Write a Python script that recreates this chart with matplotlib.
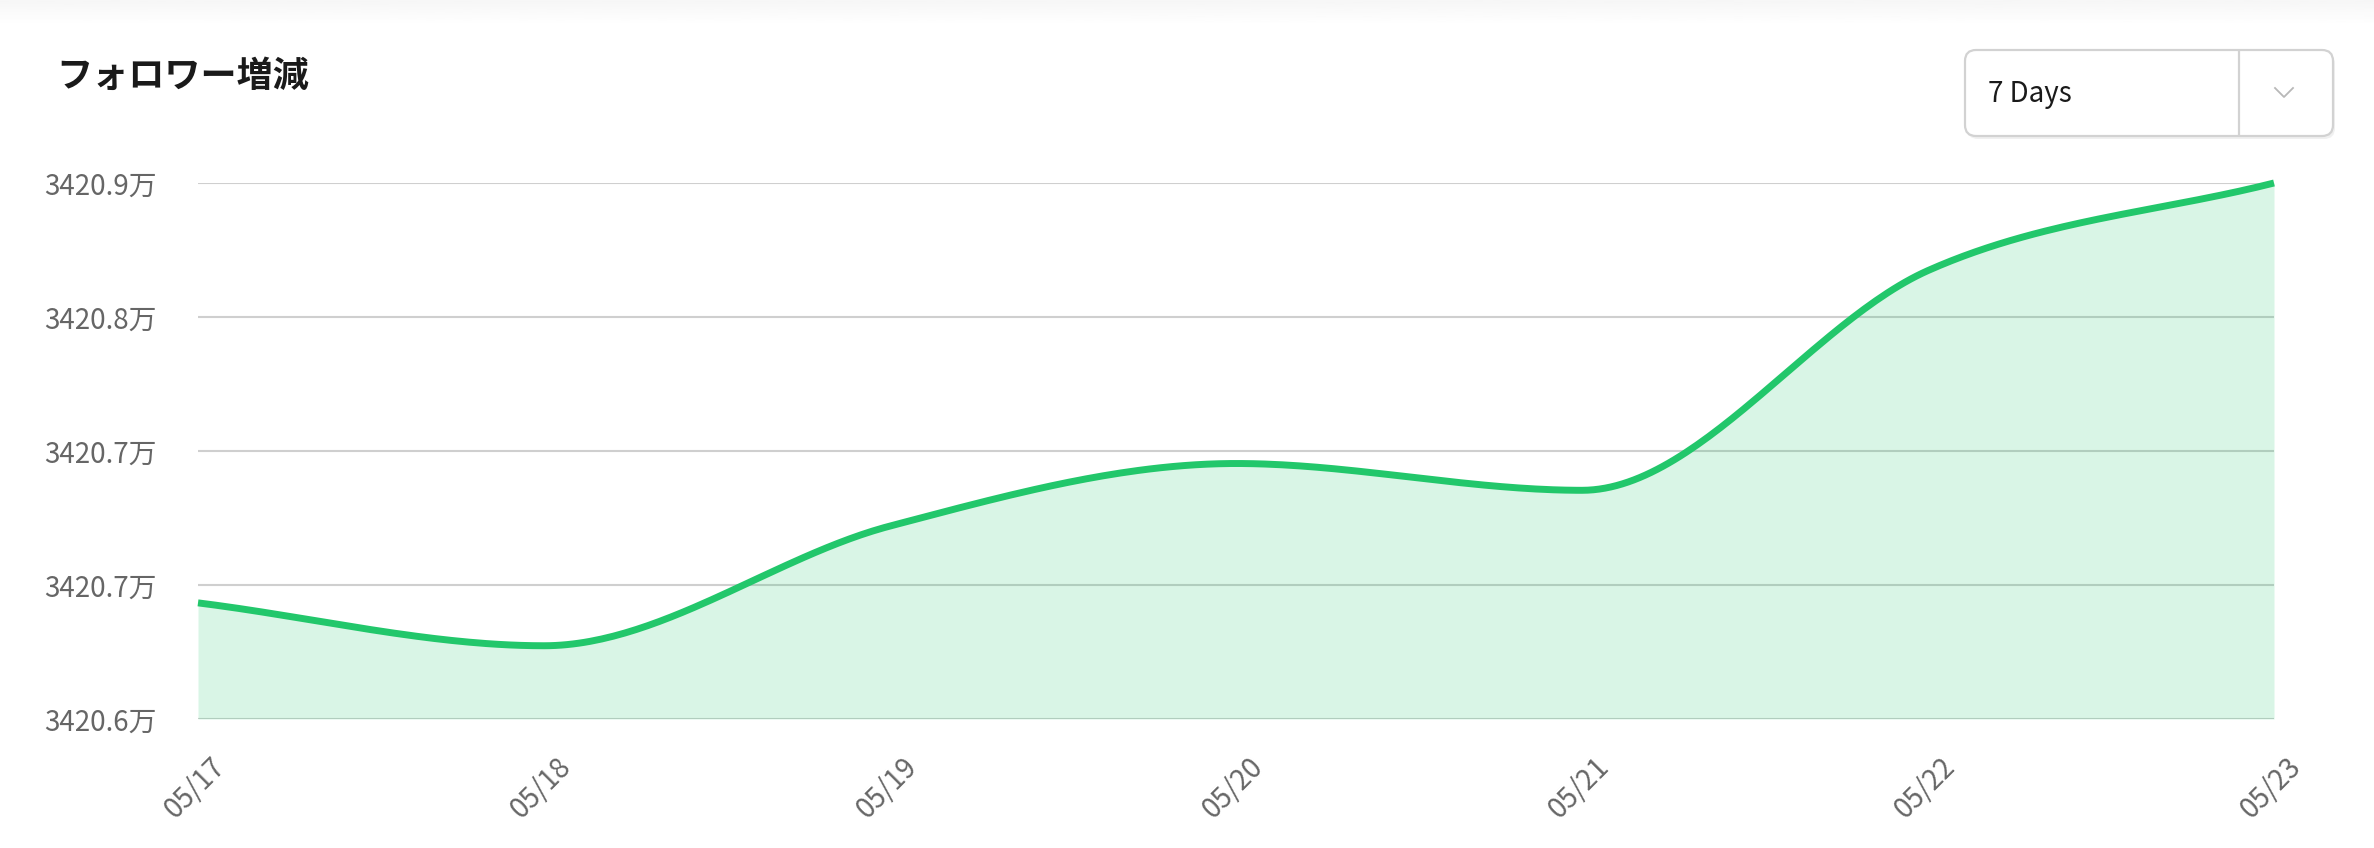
import matplotlib
matplotlib.use("Agg")
import matplotlib.pyplot as plt
import matplotlib.transforms as mtransforms
from matplotlib.patches import FancyBboxPatch
import numpy as np

plt.rcParams['font.family'] = ['Noto Sans CJK JP', 'DejaVu Sans']

# data
dates = ['05/17', '05/18', '05/19', '05/20', '05/21', '05/22', '05/23']
followers = [34206650, 34206410, 34207080, 34207430, 34207280, 34208510, 34209000]
ytick_vals = [3420.6, 3420.675, 3420.75, 3420.825, 3420.9]
ytick_labels = ['3420.6万', '3420.7万', '3420.7万', '3420.8万', '3420.9万']

title = 'フォロワー増減'
range_label = '7 Days'

LINE = '#22c76b'
GRID = '#cfcfcf'
TICK = '#666666'


def monotone_curve(xs, ys, n=60):
    # same idea as chart.js "monotone" cubic interpolation
    xs = np.asarray(xs, float)
    ys = np.asarray(ys, float)
    d = np.diff(ys) / np.diff(xs)
    m = np.zeros_like(ys)
    m[0] = d[0]
    m[-1] = d[-1]
    for i in range(1, len(ys) - 1):
        if np.sign(d[i - 1]) != np.sign(d[i]):
            m[i] = 0
        else:
            m[i] = (d[i - 1] + d[i]) / 2
    for i in range(len(d)):
        if d[i] == 0:
            m[i] = m[i + 1] = 0
            continue
        a = m[i] / d[i]
        b = m[i + 1] / d[i]
        s = a * a + b * b
        if s > 9:
            t = 3 / np.sqrt(s)
            m[i] = a * t * d[i]
            m[i + 1] = b * t * d[i]
    px, py = [], []
    for i in range(len(d)):
        h = xs[i + 1] - xs[i]
        t = np.linspace(0, 1, n, endpoint=(i == len(d) - 1))
        h00 = 2 * t**3 - 3 * t**2 + 1
        h10 = t**3 - 2 * t**2 + t
        h01 = -2 * t**3 + 3 * t**2
        h11 = t**3 - t**2
        px.append(xs[i] + t * h)
        py.append(h00 * ys[i] + h10 * h * m[i] + h01 * ys[i + 1] + h11 * h * m[i + 1])
    return np.concatenate(px), np.concatenate(py)


W, H = 2374, 848
fig = plt.figure(figsize=(W / 100, H / 100), dpi=100)
fig.patch.set_facecolor('white')

# overlay in pixel coords for header items
bg = fig.add_axes([0, 0, 1, 1])
bg.set_xlim(0, W)
bg.set_ylim(H, 0)
bg.axis('off')

grad = np.linspace(0.965, 1.0, 30).reshape(-1, 1)
bg.imshow(grad, cmap='gray', vmin=0, vmax=1, extent=[0, W, 26, 0], aspect='auto', zorder=0)

bg.text(56, 76, title, fontsize=26, fontweight='bold', color='#1a1a1a', va='center', ha='left')

shadow = FancyBboxPatch((1967, 53), 368, 86, boxstyle='round,pad=0,rounding_size=11',
                        facecolor='#f0f0f0', edgecolor='none', zorder=1)
bg.add_patch(shadow)
box = FancyBboxPatch((1965, 50), 368, 86, boxstyle='round,pad=0,rounding_size=11',
                     facecolor='white', edgecolor='#d2d2d2', linewidth=1.6, zorder=2)
bg.add_patch(box)
bg.plot([2239, 2239], [51, 135], color='#d2d2d2', lw=1.6, zorder=3)
bg.plot([2275, 2284, 2293], [88, 97, 88], color='#b8b8b8', lw=1.3, zorder=3)
bg.text(1988, 94, range_label, fontsize=20, color='#1a1a1a', va='center', ha='left', zorder=3)

# main chart
ax = fig.add_axes([198 / W, 129 / H, (2274 - 198) / W, (719 - 183) / H])
ax.set_facecolor('none')

x = np.arange(len(dates))
y = np.array(followers) / 1e4
cx, cy = monotone_curve(x, y)

ax.set_xlim(0, len(dates) - 1)
ax.set_ylim(ytick_vals[0], ytick_vals[-1])
ax.set_yticks(ytick_vals)
ax.set_yticklabels(ytick_labels)
ax.yaxis.grid(True, color=GRID, linewidth=1.5, zorder=0)
ax.set_axisbelow(True)

ax.fill_between(cx, cy, ytick_vals[0], color=LINE, alpha=0.17, linewidth=0, zorder=1)
ax.plot(cx, cy, color=LINE, linewidth=5, solid_capstyle='butt', zorder=3, clip_on=False)

for s in ax.spines.values():
    s.set_visible(False)
ax.tick_params(axis='both', length=0, colors=TICK, labelsize=20)
ax.tick_params(axis='y', pad=30)
ax.set_xticks(x)
ax.set_xticklabels(dates, rotation=45, ha='right', va='top', rotation_mode='anchor')
ax.tick_params(axis='x', pad=24)
shift = mtransforms.ScaledTranslation(12 / 100, 0, fig.dpi_scale_trans)
for lab in ax.get_xticklabels():
    lab.set_transform(lab.get_transform() + shift)

fig.savefig('out.png', dpi=100, facecolor='white')
